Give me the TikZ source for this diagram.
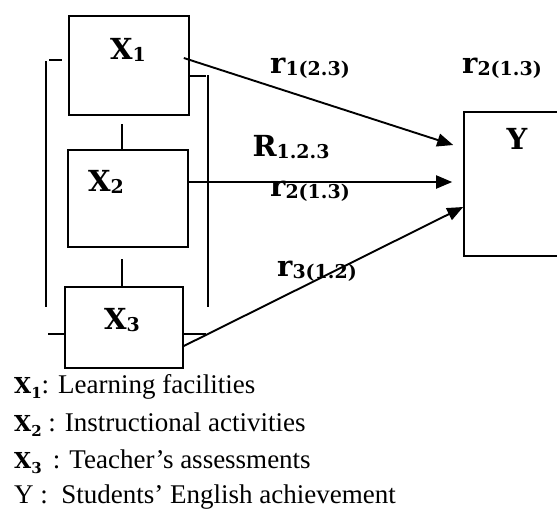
\documentclass[tikz,border=0pt]{standalone}
\usepackage{fontspec}
\setmainfont{Liberation Serif}
\newfontfamily\lblfont{DejaVu Serif}
\usepackage{tikz}
\usetikzlibrary{arrows.meta,positioning}
\tikzstyle{var}   = [rectangle, draw=black, line width=1.6pt, inner sep=0pt]
\tikzstyle{link}  = [line width=1.5pt]
\tikzstyle{arrow} = [line width=1.9pt, -{Triangle[length=16pt,width=13pt]}]
\newcommand{\varlab}[2]{{\lblfont\bfseries\fontsize{29}{29}\selectfont #1}\raisebox{-0.45ex}{\lblfont\bfseries\fontsize{19}{19}\selectfont #2}}
\newcommand{\legx}[2]{{\lblfont\bfseries\fontsize{22}{22}\selectfont #1}\raisebox{-0.45ex}{\lblfont\bfseries\fontsize{15}{15}\selectfont #2}}

\begin{document}
\begin{tikzpicture}[x=1pt,y=-1pt,
		lbl/.style={inner sep=0pt},
		legend/.style={anchor=base west, inner sep=0pt, font=\fontsize{27}{27}\selectfont}]

	\useasboundingbox (0,0) rectangle (557,512);
	\clip (0,0) rectangle (557,512);

	% variable boxes
	\node[var, minimum width=120pt, minimum height=99pt]  (x1) at (129,65.5) {};
	\node[var, minimum width=120pt, minimum height=97pt]  (x2) at (128,198.5) {};
	\node[var, minimum width=118pt, minimum height=81pt]  (x3) at (124,327.5) {};
	\node[var, minimum width=120pt, minimum height=144pt] (y)  at (524,184) {};

	\node[lbl] (x1lab) at (128,50)  {\varlab{X}{1}};
	\node[lbl] (x2lab) at (106,182) {\varlab{X}{2}};
	\node[lbl] (x3lab) at (122,320) {\varlab{X}{3}};
	\node[lbl] (ylab)  at (517,140) {\varlab{Y}{}};

	% links between predictors
	\draw[link] ([xshift=-6pt]x2.north) -- ++(0,-25);
	\draw[link] ([xshift=-2pt]x3.north) -- ++(0,-27);
	\draw[link] (49,60) -- (62,60);
	\draw[link] (46,61) -- (46,307);
	\draw[link] ([yshift=-6.5pt]x3.west) -- ++(-16,0);
	\draw[link] (190,76) -- (206,76);
	\draw[link] (208,75) -- (208,307);
	\draw[link] ([yshift=-6.5pt]x3.east) -- ++(22,0);

	% paths to Y
	\draw[arrow] ([xshift=-6pt,yshift=7.5pt]x1.east) -- ([xshift=-10pt,yshift=39pt]y.west);
	\draw[arrow] ([yshift=16.5pt]x2.east) -- ([xshift=-11pt,yshift=2pt]y.west);
	\draw[arrow] ([yshift=-18.5pt]x3.east) -- ([yshift=-23pt]y.west);

	\node[lbl] (r1)  at (310,68)  {\varlab{r}{1(2.3)}};
	\node[lbl] (r2a) at (502,68)  {\varlab{r}{2(1.3)}};
	\node[lbl] (R)   at (291,147) {\varlab{R}{1.2.3}};
	\node[lbl] (r2b) at (310,191) {\varlab{r}{2(1.3)}};
	\node[lbl] (r3)  at (317,271) {\varlab{r}{3(1.2)}};

	% legend
	\node[legend] (l1) at (14,393) {\legx{X}{1}: Learning facilities};
	\node[legend] (l2) at (14,431) {\legx{X}{2} : Instructional activities};
	\node[legend] (l3) at (14,468) {\legx{X}{3}\, : Teacher’s assessments};
	\node[legend] (l4) at (14,503) {Y :\ \ Students’ English achievement};
\end{tikzpicture}
\end{document}
